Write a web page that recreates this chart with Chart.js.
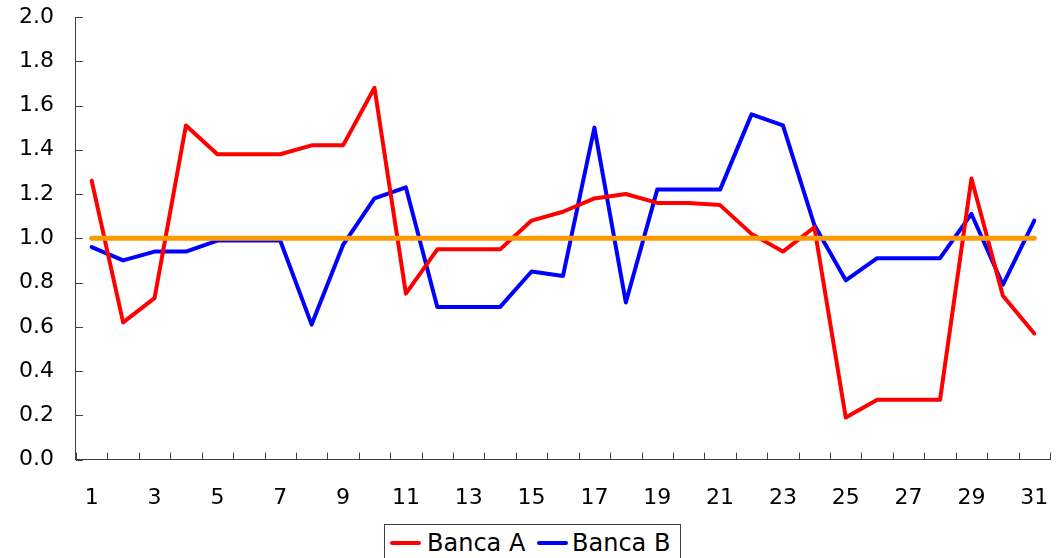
<!DOCTYPE html>
<html>
<head>
<meta charset="utf-8">
<script src="https://cdn.jsdelivr.net/npm/chart.js@4.4.1/dist/chart.umd.min.js"></script>
<style>
  html, body { margin: 0; padding: 0; background: #fff; overflow: hidden; }
  #wrap { position: relative; width: 1063px; height: 558px; overflow: hidden; }
  #c { position: absolute; left: 0; top: 0; }
  #legend { position: absolute; left: 384px; top: 524px; width: 297px; height: 50px;
            box-sizing: border-box; border: 1px solid #404040; background: #fff;
            font-family: "DejaVu Sans", sans-serif; font-size: 24px; color: #000; }
  .sw { position: absolute; height: 4px; border-radius: 2px; top: 16px; }
  .lt { position: absolute; top: 4px; line-height: 28px; white-space: nowrap; }
</style>
</head>
<body>
<div id="wrap">
  <canvas id="c" width="1063" height="558"></canvas>
  <div id="legend"></div>
</div>
<script>
const categories = ['1','2','3','4','5','6','7','8','9','10','11','12','13','14','15','16','17','18','19','20','21','22','23','24','25','26','27','28','29','30','31'];
const bancaA = [1.26,0.62,0.73,1.51,1.38,1.38,1.38,1.42,1.42,1.68,0.75,0.95,0.95,0.95,1.08,1.12,1.18,1.20,1.16,1.16,1.15,1.02,0.94,1.05,0.19,0.27,0.27,0.27,1.27,0.74,0.57];
const bancaB = [0.96,0.90,0.94,0.94,0.99,0.99,0.99,0.61,0.97,1.18,1.23,0.69,0.69,0.69,0.85,0.83,1.50,0.71,1.22,1.22,1.22,1.56,1.51,1.06,0.81,0.91,0.91,0.91,1.11,0.79,1.08];
const reference = [1.0,1.0,1.0,1.0,1.0,1.0,1.0,1.0,1.0,1.0,1.0,1.0,1.0,1.0,1.0,1.0,1.0,1.0,1.0,1.0,1.0,1.0,1.0,1.0,1.0,1.0,1.0,1.0,1.0,1.0,1.0];
const seriesNames = ['Banca A', 'Banca B'];
const yTickMin = 0, yTickMax = 2.0, yTickStep = 0.2;

const axisColor = '#404040';
const tickFont = { family: 'DejaVu Sans', size: 22 };

// draws Excel-style inward tick marks from the chart's own scales
const inwardTicks = {
  id: 'inwardTicks',
  afterDraw(chart) {
    const ctx = chart.ctx, a = chart.chartArea;
    const xs = chart.scales.x, ys = chart.scales.y;
    const len = 7;
    ctx.save();
    ctx.strokeStyle = axisColor;
    ctx.lineWidth = 1;
    ctx.beginPath();
    ys.ticks.forEach((t, i) => {
      const y = Math.round(ys.getPixelForTick(i)) + 0.5;
      ctx.moveTo(a.left, y); ctx.lineTo(a.left + len, y);
    });
    for (let i = 0; i <= categories.length; i++) {
      const x = Math.round(xs.getPixelForValue(i - 0.5)) + 0.5;
      ctx.moveTo(x, a.bottom); ctx.lineTo(x, a.bottom - len);
    }
    ctx.stroke();
    ctx.restore();
  }
};

const chart = new Chart(document.getElementById('c'), {
  type: 'line',
  data: {
    labels: categories,
    datasets: [
      { label: 'ref', data: reference, borderColor: '#FF9900', borderWidth: 5, pointRadius: 0, order: 0, borderCapStyle: 'round' },
      { label: seriesNames[0], data: bancaA, borderColor: '#FF0000', borderWidth: 4, pointRadius: 0, order: 1, borderJoinStyle: 'round', borderCapStyle: 'round' },
      { label: seriesNames[1], data: bancaB, borderColor: '#0000FF', borderWidth: 4, pointRadius: 0, order: 2, borderJoinStyle: 'round', borderCapStyle: 'round' }
    ]
  },
  plugins: [inwardTicks],
  options: {
    responsive: false,
    animation: false,
    events: [],
    layout: { padding: { left: 17, right: 13, top: 17, bottom: 44 } },
    plugins: { legend: { display: false }, tooltip: { enabled: false } },
    scales: {
      x: {
        type: 'category',
        offset: true,
        grid: { offset: true, drawOnChartArea: false, drawTicks: true, tickLength: 22, tickColor: 'rgba(0,0,0,0)', color: axisColor, lineWidth: 1 },
        border: { display: true, color: axisColor, width: 1 },
        ticks: {
          autoSkip: false, maxRotation: 0, minRotation: 0, padding: 3, color: '#000', font: tickFont,
          callback: function(v, i) { return i % 2 === 0 ? this.getLabelForValue(v) : ''; }
        }
      },
      y: {
        min: yTickMin, max: yTickMax,
        grid: { drawOnChartArea: false, drawTicks: true, tickLength: 20, tickColor: 'rgba(0,0,0,0)', color: axisColor, lineWidth: 1 },
        border: { display: true, color: axisColor, width: 1 },
        ticks: { stepSize: yTickStep, padding: 2, color: '#000', font: tickFont,
                 callback: v => Number(v).toFixed(1) }
      }
    }
  }
});

// HTML legend built from the datasets
const legend = document.getElementById('legend');
const items = [
  { ds: chart.data.datasets[1], sw: 5, tx: 42 },
  { ds: chart.data.datasets[2], sw: 152, tx: 187 }
];
items.forEach(it => {
  const s = document.createElement('div');
  s.className = 'sw';
  s.style.left = it.sw + 'px';
  s.style.width = '31px';
  s.style.background = it.ds.borderColor;
  legend.appendChild(s);
  const t = document.createElement('div');
  t.className = 'lt';
  t.style.left = it.tx + 'px';
  t.textContent = it.ds.label;
  legend.appendChild(t);
});
</script>
</body>
</html>
